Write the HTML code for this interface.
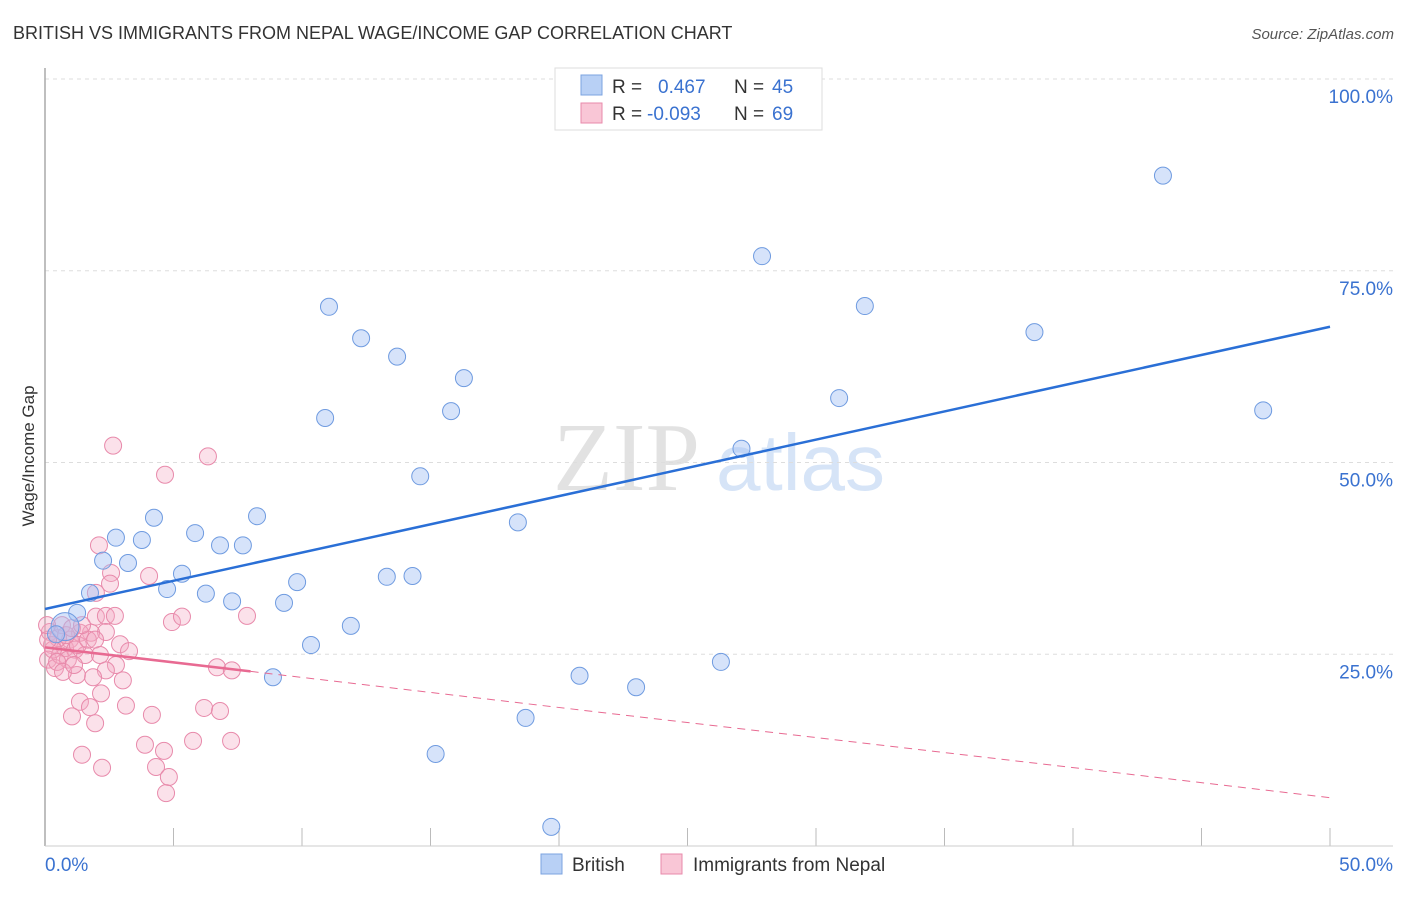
<!DOCTYPE html>
<html><head><meta charset="utf-8"><style>
body{margin:0;background:#fff;width:1406px;height:892px;overflow:hidden;font-family:"Liberation Sans",sans-serif;}
</style></head><body>
<svg id="chart" width="1406" height="892" xmlns="http://www.w3.org/2000/svg" style="font-family:'Liberation Sans',sans-serif">
<text x="13" y="39" font-size="18" fill="#333">BRITISH VS IMMIGRANTS FROM NEPAL WAGE/INCOME GAP CORRELATION CHART</text>
<text x="1394" y="39" font-size="15" fill="#555" text-anchor="end" font-style="italic">Source: ZipAtlas.com</text>
<text x="553" y="490" font-size="98" fill="#e2e2e2" font-family="Liberation Serif,serif">ZIP</text>
<text x="716" y="490" font-size="80" fill="#d6e4f7">atlas</text>
<g id="grid"></g>
<line x1="45" y1="68" x2="45" y2="846" stroke="#aaa" stroke-width="1.5"/>
<line x1="45" y1="846" x2="1393" y2="846" stroke="#ccc" stroke-width="1"/>
<text transform="translate(34,456) rotate(-90)" font-size="17" fill="#333" text-anchor="middle">Wage/Income Gap</text>
<g id="marks"></g>
<g>
<rect x="555" y="68" width="267" height="62" fill="#fff" stroke="#ddd"/>
<rect x="581" y="75" width="21" height="20" fill="#b8d0f5" stroke="#7ba3e0"/>
<rect x="581" y="103" width="21" height="20" fill="#f9c6d6" stroke="#e88aab"/>
<text x="612" y="93" font-size="19" fill="#333">R =</text>
<text x="658" y="93" font-size="19" fill="#3a72d0">0.467</text>
<text x="734" y="93" font-size="19" fill="#333">N =</text>
<text x="772" y="93" font-size="19" fill="#3a72d0">45</text>
<text x="612" y="120" font-size="19" fill="#333">R =</text>
<text x="647" y="120" font-size="19" fill="#3a72d0">-0.093</text>
<text x="734" y="120" font-size="19" fill="#333">N =</text>
<text x="772" y="120" font-size="19" fill="#3a72d0">69</text>
</g>
<g>
<rect x="541" y="854" width="21" height="20" fill="#b8d0f5" stroke="#7ba3e0"/>
<text x="572" y="871" font-size="19" fill="#333">British</text>
<rect x="661" y="854" width="21" height="20" fill="#f9c6d6" stroke="#e88aab"/>
<text x="693" y="871" font-size="19" fill="#333">Immigrants from Nepal</text>
</g>
</svg>
<script>
const yTicks=[25,50,75,100];
const yTickLabels=["25.0%","50.0%","75.0%","100.0%"];
const xTicks=[0,5,10,15,20,25,30,35,40,45,50];
const britishX=[43.5,27.9,11.05,31.9,12.3,38.5,13.7,16.3,15.8,10.9,30.9,47.4,27.1,14.6,18.4,4.24,8.25,2.76,3.77,5.84,6.81,7.70,2.26,3.23,5.33,9.81,13.3,14.3,4.75,1.75,6.26,7.28,9.30,1.25,11.9,0.78,10.35,0.43,26.3,20.8,8.87,23.0,18.7,15.2,19.7];
const britishY=[87.4,76.9,70.3,70.4,66.2,67.0,63.8,61.0,56.7,55.8,58.4,56.8,51.8,48.2,42.2,42.8,43.0,40.2,39.9,40.8,39.2,39.2,37.2,36.9,35.5,34.4,35.1,35.2,33.5,33.0,32.9,31.9,31.7,30.4,28.7,28.6,26.2,27.6,24.0,22.2,22.0,20.7,16.7,12.0,2.5];
const nepalX=[2.65,6.34,4.67,2.10,2.57,4.05,2.53,1.98,1.98,2.37,2.72,4.94,5.33,7.86,2.37,1.79,1.36,2.92,3.27,2.76,2.37,1.87,1.24,3.03,2.18,1.36,1.75,1.05,1.95,3.15,4.16,6.69,7.27,6.19,6.81,1.44,2.22,3.89,4.63,4.32,4.82,4.71,5.76,7.24,0.19,0.27,0.12,0.39,0.58,0.78,0.97,0.51,0.66,1.17,0.89,1.56,1.28,0.31,0.82,1.05,1.67,0.47,0.12,0.70,1.44,1.95,2.14,1.13,0.08];
const nepalY=[52.2,50.8,48.4,39.2,35.6,35.2,34.2,33.0,29.9,30.0,30.0,29.2,29.9,30.0,27.9,27.8,27.8,26.3,25.4,23.6,22.9,22.0,22.3,21.6,19.9,18.8,18.1,16.9,16.0,18.3,17.1,23.3,22.9,18.0,17.6,11.9,10.2,13.2,12.4,10.3,9.0,6.9,13.7,13.7,27.9,26.2,24.3,23.2,24.9,25.8,26.9,27.1,28.8,25.6,24.3,24.9,26.2,25.6,27.5,28.4,26.9,24.0,26.9,22.7,28.8,26.9,24.9,23.6,28.8];
const britishTrend=[30.9,67.7];
const nepalTrend=[25.9,6.3];
const nepalSolidEnd=8;
const NS="http://www.w3.org/2000/svg";
const sx=v=>45+v*(1285/50);
const sy=v=>846-v*7.67;
function mk(tag,attrs,parent){const e=document.createElementNS(NS,tag);for(const k in attrs)e.setAttribute(k,attrs[k]);parent.appendChild(e);return e;}
const grid=document.getElementById('grid');
yTicks.forEach((t,i)=>{
  const l=mk('line',{x1:45,x2:1393,y1:sy(t),y2:sy(t),stroke:'#ddd','stroke-dasharray':'4,4'},grid);
  
  
  const tx=mk('text',{x:1393,y:sy(t)+24,'font-size':19,fill:'#3a72d0','text-anchor':'end'},grid);
  tx.textContent=yTickLabels[i];
  
  
});
xTicks.forEach(t=>{
  const l=mk('line',{x1:sx(t),x2:sx(t),y1:828,y2:846,stroke:'#bbb'},grid);
  
  
});
const xl0=mk('text',{x:45,y:871,'font-size':19,fill:'#3a72d0'},grid);xl0.textContent='0.0%';


const xl1=mk('text',{x:1393,y:871,'font-size':19,fill:'#3a72d0','text-anchor':'end'},grid);xl1.textContent='50.0%';


const marks=document.getElementById('marks');
nepalX.forEach((x,i)=>{
  const c=mk('circle',{cx:sx(x),cy:sy(nepalY[i]),r:8.5,fill:'rgba(244,170,195,0.35)',stroke:'#e88aab','stroke-width':1},marks);
  
  
});
britishX.forEach((x,i)=>{
  const c=mk('circle',{cx:sx(x),cy:sy(britishY[i]),r:(i===35?14:8.5),fill:'rgba(164,194,244,0.45)',stroke:'#6f9be0','stroke-width':1},marks);
  
  
});
const bl=mk('line',{x1:sx(0),y1:sy(britishTrend[0]),x2:sx(50),y2:sy(britishTrend[1]),stroke:'#2a6fd6','stroke-width':2.5},marks);


const nAt=x=>nepalTrend[0]+(nepalTrend[1]-nepalTrend[0])*x/50;
const pl=mk('line',{x1:sx(0),y1:sy(nAt(0)),x2:sx(nepalSolidEnd),y2:sy(nAt(nepalSolidEnd)),stroke:'#e86a92','stroke-width':2.5},marks);


const pd=mk('line',{x1:sx(nepalSolidEnd),y1:sy(nAt(nepalSolidEnd)),x2:sx(50),y2:sy(nAt(50)),stroke:'#e86a92','stroke-width':1,'stroke-dasharray':'8,6'},marks);


</script>
</body></html>
